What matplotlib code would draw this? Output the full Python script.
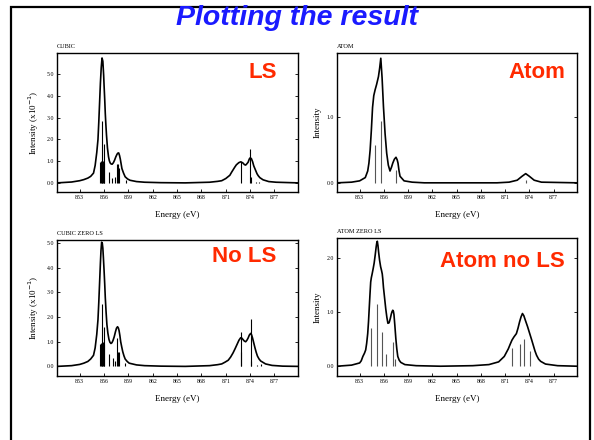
import matplotlib

matplotlib.use("Agg")

import matplotlib.pyplot as plt
from matplotlib.patches import Rectangle

# curve points (energy eV, intensity)
cubic_e=[850.2,852.0,853.0,853.5,854.0,854.35,854.7,854.9,855.1,855.25,855.35,855.45,855.55,855.65,
         855.75,855.85,855.95,856.0,856.08,856.15,856.22,856.3,856.42,856.55,856.65,856.75,856.87,
         857.0,857.15,857.3,857.45,857.6,857.7,857.8,857.9,858.0,858.1,858.2,858.4,858.6,858.9,
         859.2,860.0,861.0,863.0,866.0,869.0,870.0,870.5,871.0,871.5,871.7,871.9,872.1,872.3,
         872.6,872.85,873.1,873.3,873.45,873.6,873.75,873.9,874.0,874.15,874.3,874.45,874.65,
         874.85,875.0,875.2,875.6,876.3,877.2,879.9]
cubic_i=[0.0,0.04,0.1,0.15,0.22,0.3,0.45,0.8,1.4,2.0,2.8,3.7,4.6,5.3,
         5.75,5.6,4.95,4.5,3.85,3.2,2.7,2.2,1.6,1.2,1.02,0.92,0.87,
         0.86,0.93,1.05,1.2,1.32,1.37,1.38,1.27,1.1,0.88,0.66,0.45,0.28,0.18,
         0.12,0.06,0.03,0.01,0.0,0.03,0.07,0.1,0.2,0.35,0.48,0.6,0.72,0.83,
         0.93,0.97,0.92,0.84,0.82,0.88,0.95,1.1,1.15,1.12,0.98,0.78,0.6,
         0.42,0.33,0.24,0.14,0.06,0.03,0.0]

atom_e=[850.2,852.0,853.0,853.7,854.0,854.15,854.3,854.45,854.6,854.75,854.92,855.1,855.33,
        855.48,855.62,855.78,855.95,856.15,856.35,856.55,856.76,856.95,857.1,857.3,857.5,
        857.65,857.75,857.88,858.0,858.5,859.5,861.0,870.0,871.5,872.5,873.1,873.55,874.0,
        874.6,875.5,879.9]
atom_i=[0.0,0.01,0.03,0.08,0.18,0.3,0.5,0.8,1.15,1.33,1.42,1.5,1.62,
        1.75,1.9,1.6,1.16,0.75,0.45,0.27,0.18,0.24,0.3,0.36,0.39,
        0.35,0.3,0.18,0.1,0.03,0.01,0.0,0.0,0.01,0.04,0.1,0.14,0.1,
        0.04,0.01,0.0]

cubic0_e=[850.2,852.0,853.0,853.5,854.0,854.35,854.7,854.9,855.1,855.25,855.35,855.45,855.55,
          855.62,855.7,855.78,855.85,855.92,856.0,856.08,856.15,856.25,856.35,856.47,856.6,
          856.72,856.85,856.97,857.1,857.25,857.4,857.53,857.66,857.76,857.85,857.95,858.05,
          858.17,858.3,858.45,858.6,858.85,859.1,860.0,861.0,863.0,866.0,869.0,870.0,870.5,
          870.9,871.3,871.6,871.9,872.15,872.4,872.62,872.83,872.97,873.1,873.28,873.45,873.6,
          873.75,873.9,874.07,874.18,874.3,874.45,874.6,874.75,874.9,875.1,875.3,875.9,876.7,
          878.0,879.9]
cubic0_i=[0.0,0.03,0.08,0.13,0.2,0.3,0.45,0.75,1.3,1.9,2.6,3.4,4.2,
          4.7,5.04,5.0,4.8,4.4,3.9,3.35,2.8,2.2,1.7,1.35,1.1,
          0.98,0.93,0.96,1.05,1.2,1.4,1.55,1.61,1.56,1.45,1.25,1.0,
          0.8,0.6,0.43,0.3,0.2,0.13,0.06,0.03,0.01,0.0,0.03,0.07,0.1,
          0.17,0.25,0.38,0.55,0.72,0.9,1.06,1.16,1.15,1.1,1.03,1.0,1.06,
          1.15,1.27,1.34,1.28,1.15,0.95,0.75,0.57,0.42,0.3,0.22,0.1,0.04,
          0.01,0.0]

atom0_e=[850.2,852.0,853.0,853.2,853.4,853.6,853.75,853.87,854.0,854.1,854.2,854.28,854.37,
         854.45,854.55,854.68,854.8,854.93,855.05,855.12,855.19,855.27,855.35,855.47,855.6,
         855.7,855.8,855.87,855.95,856.08,856.23,856.37,856.5,856.65,856.8,856.92,857.0,857.1,
         857.18,857.25,857.36,857.48,857.6,857.72,857.9,858.1,858.6,860.0,863.0,867.0,869.0,
         870.2,870.9,871.15,871.4,871.62,871.85,872.1,872.4,872.6,872.8,872.98,873.15,873.32,
         873.5,873.78,874.05,874.28,874.5,874.7,874.9,875.15,875.4,876.0,877.5,879.9]
atom0_i=[0.0,0.02,0.06,0.1,0.18,0.24,0.3,0.42,0.6,0.82,1.1,1.32,1.55,
         1.63,1.7,1.8,1.9,2.05,2.2,2.27,2.3,2.22,2.1,1.95,1.83,
         1.77,1.7,1.6,1.45,1.27,1.06,0.9,0.79,0.8,0.88,0.96,1.0,1.03,
         1.01,0.95,0.75,0.51,0.32,0.18,0.11,0.07,0.03,0.01,0.0,0.01,0.03,
         0.08,0.18,0.25,0.32,0.4,0.48,0.54,0.6,0.7,0.82,0.91,0.97,0.93,
         0.85,0.73,0.6,0.49,0.38,0.28,0.2,0.13,0.09,0.04,0.01,0.0]

# stick spectra
cubic_se=[855.55,855.63,855.70,855.78,855.88,855.95,856.03,856.62,857.0,857.3,857.62,857.72,
          857.85,858.7,872.85,873.98,874.1,874.75,875.1]
cubic_si=[0.95,1.0,2.86,0.9,1.0,1.77,0.9,0.48,0.23,0.27,0.85,0.85,
          0.7,0.14,0.97,1.55,0.25,0.05,0.05]

atom_se=[854.88,855.62,857.54,873.55]
atom_si=[0.58,0.94,0.19,0.05]

cubic0_se=[855.55,855.63,855.7,855.78,855.88,855.95,856.03,856.55,857.1,857.3,857.6,857.72,
           857.82,858.6,872.83,872.9,874.07,874.15,874.8,875.4]
cubic0_si=[0.9,0.95,2.52,0.9,1.0,1.61,0.9,0.49,0.35,0.22,1.14,0.6,
           0.6,0.12,1.38,0.6,1.91,0.2,0.05,0.08]

atom0_se=[854.45,855.19,855.81,856.23,857.1,857.35,871.85,872.8,873.35,874.05]
atom0_si=[0.71,1.14,0.63,0.22,0.45,0.14,0.34,0.40,0.51,0.28]

xticks=[853,856,859,862,865,868,871,874,877]

panels=[
    {
        "rect":[57/594,1-192/440,241/594,139/440],
        "e":cubic_e,"i":cubic_i,"se":cubic_se,"si":cubic_si,
        "ylim":(-0.42,5.98),"yticks":[0,1,2,3,4,5],
        "name":"CUBIC","tag":"LS","tag_xy":(277,72.5),
        "ylabel":"Intensity (x10$^{-1}$)","stick":"black",
    },
    {
        "rect":[337/594,1-192/440,240/594,139/440],
        "e":atom_e,"i":atom_i,"se":atom_se,"si":atom_si,
        "ylim":(-0.14,1.98),"yticks":[0,1],
        "name":"ATOM","tag":"Atom","tag_xy":(565,72.5),
        "ylabel":"Intensity","stick":"#555555",
    },
    {
        "rect":[57/594,1-376/440,241/594,136/440],
        "e":cubic0_e,"i":cubic0_i,"se":cubic0_se,"si":cubic0_si,
        "ylim":(-0.39,5.13),"yticks":[0,1,2,3,4,5],
        "name":"CUBIC ZERO LS","tag":"No LS","tag_xy":(276,256.5),
        "ylabel":"Intensity (x10$^{-1}$)","stick":"black",
    },
    {
        "rect":[337/594,1-376/440,240/594,138/440],
        "e":atom0_e,"i":atom0_i,"se":atom0_se,"si":atom0_si,
        "ylim":(-0.18,2.36),"yticks":[0,1,2],
        "name":"ATOM ZERO LS","tag":"Atom no LS","tag_xy":(565,261.5),
        "ylabel":"Intensity","stick":"#555555",
    },
]

serif=["Liberation Serif","DejaVu Serif"]
sans=["Liberation Sans","DejaVu Sans"]

fig=plt.figure(figsize=(5.94,4.40),dpi=100)

fig.text(
    0.5,1-18/440,
    "Plotting the result",
    family=sans,
    fontsize=20.5,
    fontweight="bold",
    fontstyle="italic",
    color="#1a1aff",
    ha="center",
    va="center"
)

# slide border, bottom edge runs off the page
fig.add_artist(
    Rectangle(
        (11/594,-0.1),
        579/594,
        (1-7/440)+0.1,
        transform=fig.transFigure,
        fill=False,
        edgecolor="black",
        linewidth=1.6
    )
)

for p in panels:
    ax=fig.add_axes(p["rect"])

    ax.vlines(
        p["se"],
        0,
        p["si"],
        color=p["stick"],
        linewidth=0.8
    )

    ax.plot(
        p["e"],
        p["i"],
        color="black",
        linewidth=1.2,
        solid_joinstyle="round"
    )

    ax.set_xlim(850.2,879.9)
    ax.set_ylim(*p["ylim"])

    ax.set_xticks(xticks)
    ax.set_xticklabels([str(t) for t in xticks],family=serif,fontsize=4.2)

    ax.set_yticks(p["yticks"])
    ax.set_yticklabels([f"{t:.1f}" for t in p["yticks"]],family=serif,fontsize=4.2)

    ax.tick_params(
        direction="in",
        length=2,
        width=0.6,
        right=True,
        pad=2
    )

    for s in ax.spines.values():
        s.set_linewidth(1.0)

    ax.set_xlabel("Energy (eV)",family=serif,fontsize=6.5,labelpad=8)
    ax.set_ylabel(p["ylabel"],family=serif,fontsize=6.5,labelpad=4)

    ax.text(
        0,1.03,
        p["name"],
        transform=ax.transAxes,
        family=serif,
        fontsize=4.5,
        ha="left",
        va="bottom"
    )

    tx,ty=p["tag_xy"]

    fig.text(
        tx/594,1-ty/440,
        p["tag"],
        family=sans,
        fontsize=16,
        fontweight="bold",
        color="#ff2a00",
        ha="right",
        va="center"
    )

fig.savefig("out.png",dpi=100)
